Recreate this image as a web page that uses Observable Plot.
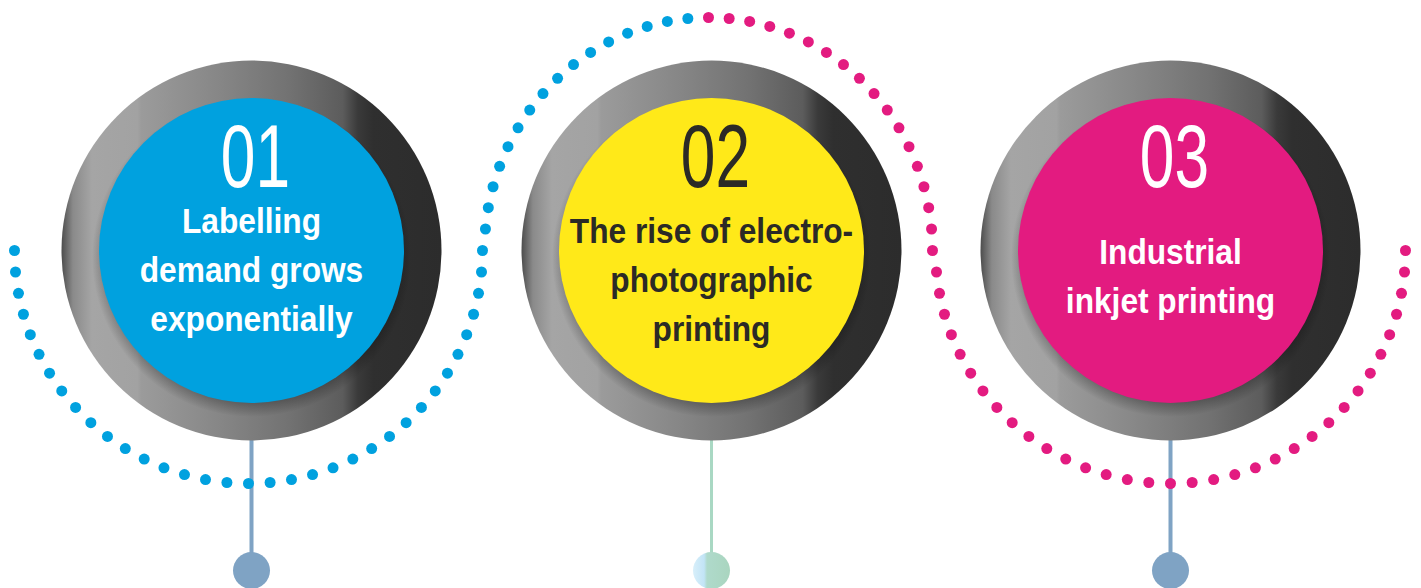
<!DOCTYPE html>
<html><head><meta charset="utf-8">
<script src="https://cdn.jsdelivr.net/npm/d3@7"></script>
<script src="https://cdn.jsdelivr.net/npm/@observablehq/plot@0.6"></script>
<style>html,body{margin:0;padding:0;background:#fff;overflow:hidden}</style>
</head><body><div id="chart"></div>
<script>
const W = 1421, H = 588;

// content
const stepNumbers = ["01", "02", "03"];
const stepLines = [
  ["Labelling", "demand grows", "exponentially"],
  ["The rise of electro-", "photographic", "printing"],
  ["Industrial", "inkjet printing"]
];
const discColors = ["#00a1df", "#ffe919", "#e31b80"];
const textColors = ["#ffffff", "#2b2a26", "#ffffff"];
const stemColors = ["#7fa3c4", "#a9d8c3", "#7fa3c4"];
const stemWidths = [4, 3, 4];
const knobFills = ["#7fa3c4", "url(#knob2)", "#7fa3c4"];

// layout
const circleX = [251, 711, 1170];
const circleY = 250;
const outerR = 190, innerR = 152.5, knobY = 570, knobR = 18.5;
const numberY = 158;
const lineY = [[220.5, 269.5, 318.5], [231, 280, 328.5], [252, 301]];

// dotted wave (three half-ellipses)
const arcCX = [248, 708, 1170];
const arcRX = [234, 224, 235];
const arcRY = 233;
const arcSide = [1, -1, 1]; // 1 = below centre, -1 = above
const arcColors = [["#00a1df", "#00a1df"], ["#00a1df", "#e31b80"], ["#e31b80", "#e31b80"]];
const stepsPerQuarter = 17;

const circles = stepNumbers.map((num, i) => ({
  x: circleX[i], y: circleY, num, disc: discColors[i], tc: textColors[i],
  stem: stemColors[i], sw: stemWidths[i], knob: knobFills[i]
}));
const lineRows = stepLines.flatMap((lines, i) =>
  lines.map((t, j) => ({x: circleX[i], y: lineY[i][j], text: t, tc: textColors[i]})));

const arcDots = [];
arcCX.forEach((cx, a) => {
  for (let k = (a === 0 ? 0 : 1); k <= 2 * stepsPerQuarter; k++) {
    const t = Math.PI * k / (2 * stepsPerQuarter);
    arcDots.push({
      x: cx - arcRX[a] * Math.cos(t),
      y: circleY + arcSide[a] * arcRY * Math.sin(t),
      color: arcColors[a][k < stepsPerQuarter ? 0 : 1]
    });
  }
});

const FONT = "'Liberation Sans', Arial, sans-serif";

const svg = Plot.plot({
  width: W, height: H, margin: 0,
  x: {domain: [0, W], range: [0, W], axis: null},
  y: {domain: [0, H], range: [0, H], axis: null},
  color: {type: "identity"},
  style: {background: "#ffffff"},
  marks: [
    Plot.ruleX(circles, {x: "x", y1: d => d.y + outerR - 2, y2: knobY, stroke: "stem", strokeWidth: "sw"}),
    Plot.dot(circles, {x: "x", y: knobY, r: knobR, fill: "knob", stroke: null}),
    Plot.dot(arcDots, {x: "x", y: "y", r: 5.5, fill: "color"}),
    Plot.dot(circles, {x: "x", y: "y", r: outerR, fill: "url(#ring)"}),
    Plot.dot(circles, {x: "x", y: d => d.y + 7, r: innerR + 7, fill: "url(#shadow)"}),
    Plot.dot(circles, {x: "x", y: "y", r: innerR, fill: "disc"}),
    Plot.text(circles, {x: "x", y: numberY, dx: 4, text: "num", fill: "tc", fontSize: 89,
      fontFamily: FONT, fontWeight: 400}),
    Plot.text(lineRows, {x: "x", y: "y", text: "text", fill: "tc", fontSize: 36,
      fontFamily: FONT, fontWeight: 700})
  ]
});

const root = d3.select(svg);
const defs = root.insert("defs", ":first-child");
const ring = defs.append("linearGradient").attr("id", "ring").attr("x1", 0).attr("x2", 1).attr("y1", 0).attr("y2", 0);
[[0, "#4d4d4d"], [0.03, "#8a8a8a"], [0.08, "#a5a5a5"], [0.2, "#a2a2a2"], [0.21, "#9b9b9b"],
 [0.4, "#888888"], [0.6, "#727272"], [0.74, "#5c5c5c"], [0.78, "#3a3a3a"], [0.82, "#2f2f2f"], [1, "#2c2c2c"]]
  .forEach(([o, c]) => ring.append("stop").attr("offset", o).attr("stop-color", c));
const sh = defs.append("radialGradient").attr("id", "shadow");
[[0, "#000", 0.3], [0.9, "#000", 0.3], [1, "#000", 0]]
  .forEach(([o, c, a]) => sh.append("stop").attr("offset", o).attr("stop-color", c).attr("stop-opacity", a));
const k2 = defs.append("linearGradient").attr("id", "knob2").attr("x1", 0).attr("x2", 1).attr("y1", 0).attr("y2", 0);
[[0, "#d8effa"], [0.3, "#c2e4f6"], [0.38, "#afdacb"], [1, "#a9d5bf"]]
  .forEach(([o, c]) => k2.append("stop").attr("offset", o).attr("stop-color", c));

function squeeze(g, s) {
  d3.select(g).selectAll("text").each(function () {
    const t = this.getAttribute("transform");
    if (t) this.setAttribute("transform", t + ` scale(${s},1)`);
    else {
      const x = +this.getAttribute("x") || 0, y = +this.getAttribute("y") || 0;
      this.removeAttribute("x"); this.removeAttribute("y");
      this.setAttribute("transform", `translate(${x},${y}) scale(${s},1)`);
    }
  });
}
const textGroups = root.selectAll('g[aria-label="text"]').nodes();
squeeze(textGroups[0], 0.7);
squeeze(textGroups[1], 0.88);

document.getElementById("chart").appendChild(svg);
</script>
</body></html>
